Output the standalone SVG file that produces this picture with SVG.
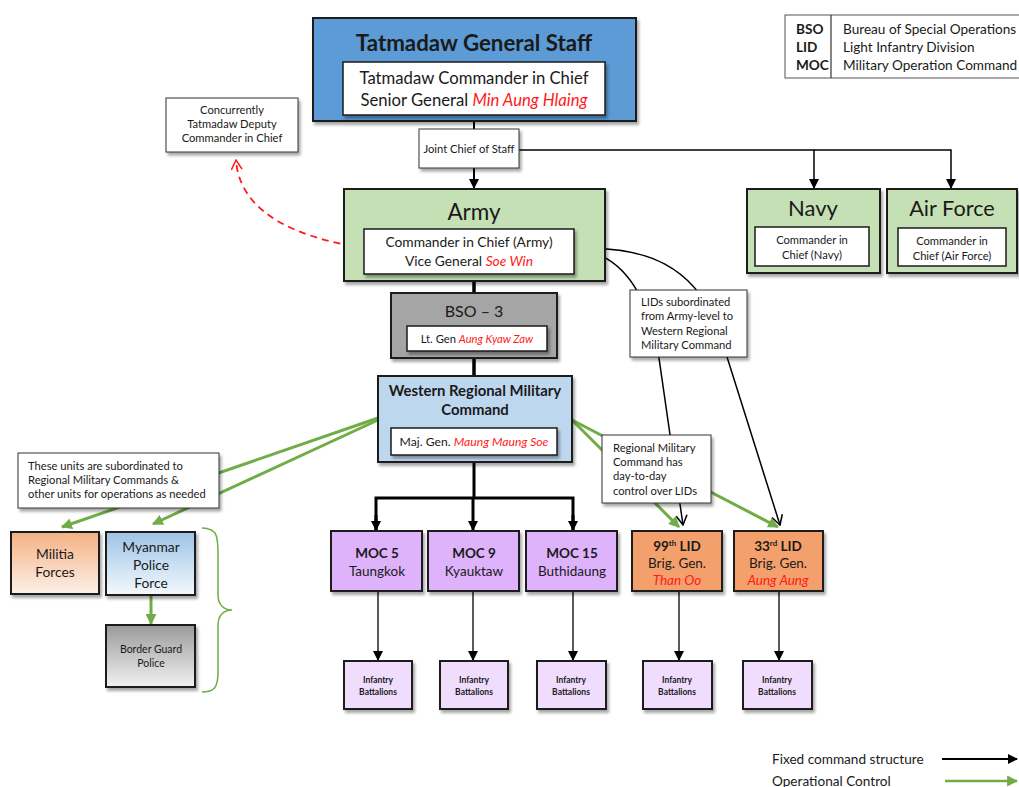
<svg xmlns="http://www.w3.org/2000/svg" width="1019" height="787" viewBox="0 0 1019 787">
<style>
text{font-family:Lato,"Open Sans","Liberation Sans",sans-serif;fill:#1a1a1a}
.box{stroke:#1a1a1a;stroke-width:2}
.inner{fill:#fff;stroke:#1a1a1a;stroke-width:1.5}
.note{fill:#fff;stroke:#333;stroke-width:1}
.red{fill:#ff1a1a;font-style:italic}
.c{text-anchor:middle}
.blk{stroke:#000;fill:none}
.grn{stroke:#70ad47;stroke-width:3;fill:none}
.sh{filter:url(#sh)}
</style>
<defs>
<filter id="sh" x="-10%" y="-10%" width="130%" height="130%"><feDropShadow dx="2" dy="3" stdDeviation="1.5" flood-color="#000" flood-opacity="0.35"/></filter>
<marker id="abt" viewBox="0 0 10 10" refX="9" refY="5" markerWidth="10" markerHeight="10" orient="auto" markerUnits="userSpaceOnUse"><path d="M0,0 L10,5 L0,10 z" fill="#000"/></marker>
<marker id="ag" viewBox="0 0 10 10" refX="9" refY="5" markerWidth="11" markerHeight="11" orient="auto" markerUnits="userSpaceOnUse"><path d="M0,0 L10,5 L0,10 z" fill="#70ad47"/></marker>
<marker id="ao" viewBox="0 0 10 10" refX="9" refY="5" markerWidth="12" markerHeight="12" orient="auto" markerUnits="userSpaceOnUse"><path d="M1,0.5 L9,5 L1,9.5" fill="none" stroke="#000" stroke-width="1.3"/></marker>
<marker id="ar" viewBox="0 0 10 10" refX="9" refY="5" markerWidth="12" markerHeight="12" orient="auto" markerUnits="userSpaceOnUse"><path d="M1,0.5 L9,5 L1,9.5" fill="none" stroke="#ff1a1a" stroke-width="1.3"/></marker>
<linearGradient id="gMil" x1="0" y1="0" x2="0" y2="1"><stop offset="0" stop-color="#f4b183"/><stop offset="1" stop-color="#fdf0e8"/></linearGradient>
<linearGradient id="gMpf" x1="0" y1="0" x2="0" y2="1"><stop offset="0" stop-color="#9dc3e6"/><stop offset="1" stop-color="#f4f9fd"/></linearGradient>
<linearGradient id="gBgp" x1="0" y1="0" x2="0" y2="1"><stop offset="0" stop-color="#9a9a9a"/><stop offset="1" stop-color="#f2f2f2"/></linearGradient>
</defs>

<g id="connectors">
<line class="blk" x1="474" y1="121" x2="474" y2="129" stroke-width="2"/>
<line class="blk" x1="474" y1="168" x2="474" y2="188" stroke-width="2" marker-end="url(#abt)"/>
<polyline class="blk" points="519,150 814,150 814,188" stroke-width="1.5" marker-end="url(#abt)"/>
<polyline class="blk" points="814,150 951,150 951,188" stroke-width="1.5" marker-end="url(#abt)"/>
<path d="M364,248 C 300,238 240,215 236,160" fill="none" stroke="#ff1a1a" stroke-width="1.8" stroke-dasharray="7,5" marker-end="url(#ar)"/>
<line class="blk" x1="474" y1="281" x2="474" y2="293" stroke-width="3.5"/>
<line class="blk" x1="474" y1="358" x2="474" y2="376" stroke-width="3.5"/>
<polyline class="blk" points="474,462 474,498" stroke-width="3"/>
<polyline class="blk" points="376,530 376,498 573,498 573,530" stroke-width="3" stroke-linejoin="miter"/>
<line class="blk" x1="376" y1="515" x2="376" y2="530" stroke-width="3" marker-end="url(#abt)"/>
<line class="blk" x1="473" y1="498" x2="473" y2="530" stroke-width="3" marker-end="url(#abt)"/>
<line class="blk" x1="573" y1="515" x2="573" y2="530" stroke-width="3" marker-end="url(#abt)"/>
<path class="blk" d="M574,249 C 625,252 652,300 661,372 L 683,525" stroke-width="1.5" marker-end="url(#ao)"/>
<path class="blk" d="M574,249 C 650,244 693,270 716,322 L 780,525" stroke-width="1.5" marker-end="url(#ao)"/>
<line class="grn" x1="572" y1="420" x2="679" y2="527" marker-end="url(#ag)"/>
<line class="grn" x1="572" y1="420" x2="778" y2="527" marker-end="url(#ag)"/>
<line class="grn" x1="378" y1="418" x2="62" y2="527" marker-end="url(#ag)"/>
<line class="grn" x1="378" y1="420" x2="153" y2="524" marker-end="url(#ag)"/>
<line class="grn" x1="151" y1="595" x2="151" y2="624" marker-end="url(#ag)"/>
<line class="blk" x1="378" y1="591" x2="378" y2="660" stroke-width="1.3" marker-end="url(#abt)"/>
<line class="blk" x1="473" y1="591" x2="473" y2="660" stroke-width="1.3" marker-end="url(#abt)"/>
<line class="blk" x1="573" y1="591" x2="573" y2="660" stroke-width="1.3" marker-end="url(#abt)"/>
<line class="blk" x1="679" y1="591" x2="679" y2="660" stroke-width="1.3" marker-end="url(#abt)"/>
<line class="blk" x1="779" y1="591" x2="779" y2="660" stroke-width="1.3" marker-end="url(#abt)"/>
<path d="M202,528 C 218,528 218,538 218,555 L 218,595 C 218,605 224,610 232,610 C 224,610 218,615 218,625 L 218,672 C 218,688 214,692 202,692" fill="none" stroke="#70ad47" stroke-width="1.5"/>
</g>

<g id="gen-staff">
<rect class="box sh" x="313" y="18" width="323" height="103" fill="#5b9bd5"/>
<text class="c" x="474" y="51" font-size="22.3" font-weight="bold" fill="#000">Tatmadaw General Staff</text>
<rect class="inner sh" x="343" y="62" width="262" height="53"/>
<text class="c" x="474" y="84" font-size="16.7">Tatmadaw Commander in Chief</text>
<text class="c" x="474" y="106" font-size="16.7">Senior General <tspan class="red">Min Aung Hlaing</tspan></text>
</g>

<g id="legend-abbr">
<rect x="785" y="15" width="240" height="63" fill="#fff" stroke="#555" stroke-width="1"/>
<line x1="831" y1="15" x2="831" y2="78" stroke="#333" stroke-width="1.2"/>
<text x="796" y="34" font-size="13.6" font-weight="bold">BSO</text>
<text x="796" y="52" font-size="13.6" font-weight="bold">LID</text>
<text x="796" y="70" font-size="13.6" font-weight="bold">MOC</text>
<text x="843" y="34" font-size="13.6">Bureau of Special Operations</text>
<text x="843" y="52" font-size="13.6">Light Infantry Division</text>
<text x="843" y="70" font-size="13.6">Military Operation Command</text>
</g>

<g id="concurrently">
<rect class="note sh" x="166" y="98" width="132" height="54"/>
<text class="c" x="232" y="114" font-size="11.2">Concurrently</text>
<text class="c" x="232" y="128" font-size="11.2">Tatmadaw Deputy</text>
<text class="c" x="232" y="142" font-size="11.2">Commander in Chief</text>
</g>

<g id="joint-chief">
<rect class="note sh" x="419" y="129" width="100" height="39" stroke="#1a1a1a" stroke-width="1.5"/>
<text class="c" x="469" y="153" font-size="11.2">Joint Chief of Staff</text>
</g>

<g id="army">
<rect class="box sh" x="344" y="189" width="261" height="92" fill="#c5e0b4"/>
<text class="c" x="474" y="220" font-size="22.5">Army</text>
<rect class="inner sh" x="364" y="229" width="210" height="45"/>
<text class="c" x="469" y="247" font-size="13.8">Commander in Chief (Army)</text>
<text class="c" x="469" y="266" font-size="13.8">Vice General <tspan class="red">Soe Win</tspan></text>
</g>

<g id="navy">
<rect class="box sh" x="747" y="189" width="133" height="84" fill="#c5e0b4"/>
<text class="c" x="813" y="216" font-size="22">Navy</text>
<rect class="inner" x="755" y="227" width="114" height="39"/>
<text class="c" x="812" y="244" font-size="11.2">Commander in</text>
<text class="c" x="812" y="259" font-size="11.2">Chief (Navy)</text>
</g>

<g id="air-force">
<rect class="box sh" x="887" y="189" width="130" height="84" fill="#c5e0b4"/>
<text class="c" x="952" y="216" font-size="21.7">Air Force</text>
<rect class="inner" x="898" y="228" width="108" height="38"/>
<text class="c" x="952" y="245" font-size="11.2">Commander in</text>
<text class="c" x="952" y="260" font-size="11.2">Chief (Air Force)</text>
</g>

<g id="bso3">
<rect class="box sh" x="391" y="293" width="166" height="65" fill="#a5a5a5" stroke-width="2.5"/>
<text class="c" x="474" y="317" font-size="16">BSO – 3</text>
<rect class="inner sh" x="407" y="326" width="140" height="25"/>
<text class="c" x="477" y="343" font-size="11.2">Lt. Gen <tspan class="red">Aung Kyaw Zaw</tspan></text>
</g>

<g id="wrmc">
<rect class="box sh" x="378" y="376" width="194" height="86" fill="#bdd7ee" stroke="#333" stroke-width="1.5"/>
<text class="c" x="475" y="396" font-size="14.9" font-weight="bold">Western Regional Military</text>
<text class="c" x="475" y="415" font-size="14.9" font-weight="bold">Command</text>
<rect class="inner sh" x="391" y="428" width="166" height="27"/>
<text class="c" x="474" y="446" font-size="12.2">Maj. Gen. <tspan class="red">Maung Maung Soe</tspan></text>
</g>

<g id="lids-note">
<rect class="note sh" x="630" y="290" width="117" height="67"/>
<text x="641" y="306" font-size="11.2">LIDs subordinated</text>
<text x="641" y="320" font-size="11.2">from Army-level to</text>
<text x="641" y="335" font-size="11.2">Western Regional</text>
<text x="641" y="349" font-size="11.2">Military Command</text>
</g>

<g id="rmc-note">
<rect class="note sh" x="602" y="435" width="109" height="68"/>
<text x="613" y="452" font-size="11.2">Regional Military</text>
<text x="613" y="466" font-size="11.2">Command has</text>
<text x="613" y="480" font-size="11.2">day-to-day</text>
<text x="613" y="495" font-size="11.2">control over LIDs</text>
</g>

<g id="units-note">
<rect class="note sh" x="18" y="453" width="201" height="55"/>
<text x="28" y="470" font-size="11.2">These units are subordinated to</text>
<text x="28" y="484" font-size="11.2">Regional Military Commands &amp;</text>
<text x="28" y="498" font-size="11.2">other units for operations as needed</text>
</g>

<g id="militia">
<rect class="box sh" x="11" y="532" width="88" height="62" fill="url(#gMil)"/>
<text class="c" x="55" y="559" font-size="13.8">Militia</text>
<text class="c" x="55" y="577" font-size="13.8">Forces</text>
</g>

<g id="mpf">
<rect class="box sh" x="106" y="532" width="89" height="63" fill="url(#gMpf)"/>
<text class="c" x="151" y="552" font-size="13.8">Myanmar</text>
<text class="c" x="151" y="570" font-size="13.8">Police</text>
<text class="c" x="151" y="588" font-size="13.8">Force</text>
</g>

<g id="bgp">
<rect class="box sh" x="106" y="625" width="89" height="62" fill="url(#gBgp)"/>
<text class="c" x="151" y="653" font-size="10.5">Border Guard</text>
<text class="c" x="151" y="667" font-size="10.5">Police</text>
</g>

<g id="moc5">
<rect class="box sh" x="331" y="531" width="91" height="60" fill="#dfb3fb"/>
<text class="c" x="377" y="558" font-size="13.5" font-weight="bold">MOC 5</text>
<text class="c" x="377" y="576" font-size="13.5">Taungkok</text>
</g>
<g id="moc9">
<rect class="box sh" x="428" y="531" width="91" height="60" fill="#dfb3fb"/>
<text class="c" x="474" y="558" font-size="13.5" font-weight="bold">MOC 9</text>
<text class="c" x="474" y="576" font-size="13.5">Kyauktaw</text>
</g>
<g id="moc15">
<rect class="box sh" x="526" y="531" width="91" height="60" fill="#dfb3fb"/>
<text class="c" x="572" y="558" font-size="13.5" font-weight="bold">MOC 15</text>
<text class="c" x="572" y="576" font-size="13.5">Buthidaung</text>
</g>

<g id="lid99">
<rect class="box sh" x="632" y="531" width="90" height="60" fill="#f4a06c"/>
<text class="c" x="677" y="551" font-size="13.5" font-weight="bold">99<tspan font-size="8" dy="-5">th</tspan><tspan dy="5"> LID</tspan></text>
<text class="c" x="677" y="568" font-size="13.5">Brig. Gen.</text>
<text class="c" x="677" y="585" font-size="13.5"><tspan class="red">Than Oo</tspan></text>
</g>
<g id="lid33">
<rect class="box sh" x="734" y="531" width="89" height="60" fill="#f4a06c"/>
<text class="c" x="778" y="551" font-size="13.5" font-weight="bold">33<tspan font-size="8" dy="-5">rd</tspan><tspan dy="5"> LID</tspan></text>
<text class="c" x="778" y="568" font-size="13.5">Brig. Gen.</text>
<text class="c" x="778" y="585" font-size="13.5"><tspan class="red">Aung Aung</tspan></text>
</g>

<g id="inf1">
<rect class="box sh" x="344" y="661" width="68" height="48" fill="#f0dcfd" stroke-width="1.5"/>
<text class="c" x="378" y="683" font-size="8.5" font-weight="bold">Infantry</text>
<text class="c" x="378" y="695" font-size="8.5" font-weight="bold">Battalions</text>
</g>
<g id="inf2">
<rect class="box sh" x="440" y="661" width="68" height="48" fill="#f0dcfd" stroke-width="1.5"/>
<text class="c" x="474" y="683" font-size="8.5" font-weight="bold">Infantry</text>
<text class="c" x="474" y="695" font-size="8.5" font-weight="bold">Battalions</text>
</g>
<g id="inf3">
<rect class="box sh" x="537" y="661" width="69" height="48" fill="#f0dcfd" stroke-width="1.5"/>
<text class="c" x="571" y="683" font-size="8.5" font-weight="bold">Infantry</text>
<text class="c" x="571" y="695" font-size="8.5" font-weight="bold">Battalions</text>
</g>
<g id="inf4">
<rect class="box sh" x="643" y="661" width="69" height="48" fill="#f0dcfd" stroke-width="1.5"/>
<text class="c" x="677" y="683" font-size="8.5" font-weight="bold">Infantry</text>
<text class="c" x="677" y="695" font-size="8.5" font-weight="bold">Battalions</text>
</g>
<g id="inf5">
<rect class="box sh" x="743" y="661" width="69" height="48" fill="#f0dcfd" stroke-width="1.5"/>
<text class="c" x="777" y="683" font-size="8.5" font-weight="bold">Infantry</text>
<text class="c" x="777" y="695" font-size="8.5" font-weight="bold">Battalions</text>
</g>

<g id="legend-lines">
<text x="772" y="764" font-size="13.6">Fixed command structure</text>
<line x1="942" y1="759" x2="1017" y2="759" stroke="#000" stroke-width="2" marker-end="url(#abt)"/>
<text x="772" y="786" font-size="13.6">Operational Control</text>
<line x1="945" y1="781" x2="1017" y2="781" stroke="#70ad47" stroke-width="2.5" marker-end="url(#ag)"/>
</g>
</svg>
